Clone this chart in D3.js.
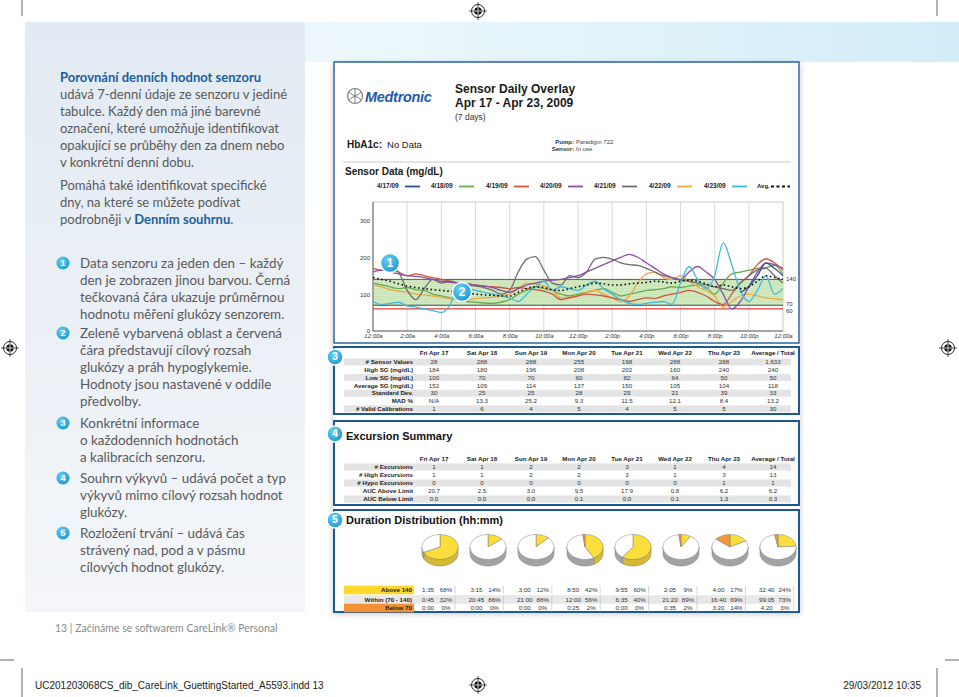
<!DOCTYPE html>
<html><head><meta charset="utf-8">
<script src="https://cdn.jsdelivr.net/npm/d3@7"></script>
<style>
html,body{margin:0;padding:0;background:#fff;}
svg{display:block;}
</style></head><body>
<svg id="c" width="959" height="697"></svg>
<script>
// ---------------- DATA ----------------
const dayLabels = ["4/17/09","4/18/09","4/19/09","4/20/09","4/21/09","4/22/09","4/23/09"];
const dayColors = ["#2e4f94","#6aaa50","#d0563b","#8b4fa3","#6e6e6e","#f0a742","#3fb9dc"];
const hours = d3.range(0, 24.01, 0.5);
const sg0417 = [null,null,null,null,null,null,null,null,null,null,null,null,null,null,null,null,null,null,null,null,null,null,null,null,null,null,null,null,null,null,null,null,null,null,null,null,null,null,null,null,null,null,null,105,120,150,184,170,150];
const sg0418 = [130,125,120,115,118,112,110,100,95,90,85,80,78,76,75,78,85,100,110,120,115,110,100,95,100,105,110,115,105,95,100,105,110,112,115,120,118,122,125,118,100,130,155,160,165,170,172,178,155];
const sg0419 = [170,165,165,160,150,155,150,145,140,135,130,128,125,122,120,118,115,118,115,112,108,100,85,90,95,100,98,95,90,85,80,85,90,88,95,100,105,110,105,95,80,72,100,130,150,180,196,185,165];
const sg0420 = [160,165,160,155,150,148,145,140,135,132,130,128,125,122,118,110,105,115,125,130,135,138,140,145,150,160,170,180,190,200,208,200,185,170,155,145,140,160,175,160,140,100,60,80,120,160,185,180,170];
const sg0421 = [null,null,175,160,110,85,115,140,130,135,130,125,122,118,110,100,110,160,195,202,165,130,125,150,145,160,195,200,195,185,180,178,170,160,150,145,138,135,130,125,120,115,110,130,150,165,170,150,130];
const sg0422 = [125,120,112,108,105,100,98,95,92,88,85,85,88,90,92,95,100,115,130,128,122,110,90,92,95,105,110,100,90,80,95,130,155,160,145,140,150,135,120,110,95,65,80,95,100,95,90,88,85];
const sg0423 = [80,72,75,78,68,65,60,55,50,70,120,115,110,105,100,95,90,80,100,120,135,110,120,115,110,125,135,115,100,85,75,72,75,78,80,72,130,175,140,115,150,240,180,110,80,110,150,100,115];
const sgAvg  = [145,140,135,128,122,118,115,112,110,108,105,103,100,98,97,95,95,105,115,120,118,112,110,115,120,125,130,128,125,125,128,130,132,135,133,130,135,138,135,128,120,125,120,115,120,135,150,145,140];
const yTicks = [0,100,200,300];
const xTickLabels = ["12:00a","2:00a","4:00a","6:00a","8:00a","10:00a","12:00p","2:00p","4:00p","6:00p","8:00p","10:00p","12:00a"];
const targetHigh = 140, targetLow = 70, hypoLimit = 60;

const colHeaders = ["Fri Apr 17","Sat Apr 18","Sun Apr 19","Mon Apr 20","Tue Apr 21","Wed Apr 22","Thu Apr 23","Average / Total"];
const statLabels = ["# Sensor Values","High SG (mg/dL)","Low SG (mg/dL)","Average SG (mg/dL)","Standard Dev.","MAD %","# Valid Calibrations"];
const statSensorValues = ["28","288","288","255","198","288","288","1,633"];
const statHigh = ["184","180","196","208","202","160","240","240"];
const statLow = ["100","70","70","60","82","64","50","50"];
const statAvg = ["152","109","114","137","150","105","104","118"];
const statSD = ["30","25","25","28","29","21","39","33"];
const statMAD = ["N/A","13.3","25.2","9.3","11.5","12.1","8.4","13.2"];
const statCal = ["1","6","4","5","4","5","5","30"];

const excLabels = ["# Excursions","# High Excursions","# Hypo Excursions","AUC Above Limit","AUC Below Limit"];
const excTotal = ["1","1","2","2","3","1","4","14"];
const excHigh = ["1","1","2","2","3","1","3","13"];
const excHypo = ["0","0","0","0","0","0","1","1"];
const aucAbove = ["20.7","2.5","3.0","9.5","17.9","0.8","6.2","6.2"];
const aucBelow = ["0.0","0.0","0.0","0.1","0.0","0.1","1.3","0.3"];

const durLabels = ["Above 140","Within (70 - 140)","Below 70"];
const aboveTime = ["1:35","3:15","3:00","8:50","9:55","2:05","4:00","32:40"];
const abovePct = [68,14,12,42,60,9,17,24];
const withinTime = ["0:45","20:45","21:00","12:00","6:35","21:20","16:40","99:05"];
const withinPct = [32,86,88,56,40,89,69,73];
const belowTime = ["0:00","0:00","0:00","0:25","0:00","0:35","3:20","4:20"];
const belowPct = [0,0,0,2,0,2,14,3];

// left column text
const introLines = [
  [{t:"Porovnání denních hodnot senzoru",b:true}],
  [{t:"udává 7-denní údaje ze senzoru v jediné"}],
  [{t:"tabulce. Každý den má jiné barevné"}],
  [{t:"označení, které umožňuje identifikovat"}],
  [{t:"opakující se průběhy den za dnem nebo"}],
  [{t:"v konkrétní denní dobu."}]
];
const intro2Lines = [
  [{t:"Pomáhá také identifikovat specifické"}],
  [{t:"dny, na které se můžete podívat"}],
  [{t:"podrobněji v "},{t:"Denním souhrnu",b:true},{t:"."}]
];
const notes = [
  ["Data senzoru za jeden den – každý","den je zobrazen jinou barvou. Černá","tečkovaná čára ukazuje průměrnou","hodnotu měření glukózy senzorem."],
  ["Zeleně vybarvená oblast a červená","čára představují cílový rozsah","glukózy a práh hypoglykemie.","Hodnoty jsou nastavené v oddíle","předvolby."],
  ["Konkrétní informace","o každodenních hodnotách","a kalibracích senzoru."],
  ["Souhrn výkyvů – udává počet a typ","výkyvů mimo cílový rozsah hodnot","glukózy."],
  ["Rozložení trvání – udává čas","strávený nad, pod a v pásmu","cílových hodnot glukózy."]
];

// ---------------- DRAW ----------------
const svg = d3.select("#c");
const defs = svg.append("defs");
const AR = "'Liberation Sans', Arial, sans-serif";
const LT = "Lato, 'Open Sans', sans-serif";

const gL = defs.append("linearGradient").attr("id","gLeft").attr("x1",0).attr("y1",0).attr("x2",0).attr("y2",1);
gL.append("stop").attr("offset",0).attr("stop-color","#e2eaf3");
gL.append("stop").attr("offset",1).attr("stop-color","#f4f6f9");
const gS = defs.append("linearGradient").attr("id","gStrip").attr("x1",0).attr("y1",0).attr("x2",1).attr("y2",0);
gS.append("stop").attr("offset",0).attr("stop-color","#eef8fc");
gS.append("stop").attr("offset",1).attr("stop-color","#d3edf8");
const pat = defs.append("pattern").attr("id","band").attr("patternUnits","userSpaceOnUse").attr("width",4).attr("height",2);
pat.append("rect").attr("width",4).attr("height",2).attr("fill","#d6eac6");
pat.append("rect").attr("width",4).attr("height",0.7).attr("fill","#c4deb0");
const sh = defs.append("filter").attr("id","shadow").attr("x","-5%").attr("y","-5%").attr("width","110%").attr("height","110%");
sh.append("feDropShadow").attr("dx",0).attr("dy",2).attr("stdDeviation",3).attr("flood-color","#000").attr("flood-opacity",0.22);
const bg = defs.append("radialGradient").attr("id","badge").attr("cx","40%").attr("cy","35%").attr("r","70%");
bg.append("stop").attr("offset",0).attr("stop-color","#6fd0f2");
bg.append("stop").attr("offset",1).attr("stop-color","#1497cf");

// backgrounds
svg.append("rect").attr("x",25).attr("y",22).attr("width",280).attr("height",590).attr("fill","url(#gLeft)");
svg.append("rect").attr("x",305).attr("y",22).attr("width",654).attr("height",40).attr("fill","url(#gStrip)");

// trim / registration marks
const marks = svg.append("g").attr("stroke","#222").attr("stroke-width",0.7).attr("fill","none");
[[22,0,22,16],[937,0,937,16],[0,660,14,660],[945,660,959,660],[22,668,22,697],[937,668,937,697]].forEach(l=>{
  marks.append("line").attr("x1",l[0]).attr("y1",l[1]).attr("x2",l[2]).attr("y2",l[3]);
});
function reg(cx,cy){
  const g = svg.append("g");
  g.append("circle").attr("cx",cx).attr("cy",cy).attr("r",6.5).attr("fill","#fff").attr("stroke","#111").attr("stroke-width",0.9);
  g.append("circle").attr("cx",cx).attr("cy",cy).attr("r",3.8).attr("fill","#111");
  g.append("line").attr("x1",cx-9).attr("x2",cx+9).attr("y1",cy).attr("y2",cy).attr("stroke","#111").attr("stroke-width",0.7);
  g.append("line").attr("y1",cy-9).attr("y2",cy+9).attr("x1",cx).attr("x2",cx).attr("stroke","#111").attr("stroke-width",0.7);
  g.append("line").attr("x1",cx-3.8).attr("x2",cx+3.8).attr("y1",cy).attr("y2",cy).attr("stroke","#fff").attr("stroke-width",0.8);
  g.append("line").attr("y1",cy-3.8).attr("y2",cy+3.8).attr("x1",cx).attr("x2",cx).attr("stroke","#fff").attr("stroke-width",0.8);
}
reg(478,11); reg(10,348); reg(948,348); reg(478,685);

// footer
svg.append("text").attr("x",35).attr("y",689).attr("font-family",AR).attr("font-size",10).attr("fill","#222")
  .text("UC201203068CS_dib_CareLink_GuettingStarted_A5593.indd   13");
svg.append("text").attr("x",921).attr("y",689).attr("text-anchor","end").attr("font-family",AR).attr("font-size",10).attr("fill","#222")
  .text("29/03/2012   10:35");
svg.append("text").attr("x",55).attr("y",632).attr("font-family",LT).attr("font-size",10.5).attr("fill","#8a8a8a")
  .text("13   |   Začínáme se softwarem CareLink® Personal");

// left column
function textLines(lines, x, y0, lh, fs){
  lines.forEach((parts,i)=>{
    const t = svg.append("text").attr("x",x).attr("y",y0+i*lh).attr("font-family",LT).attr("font-size",fs).attr("fill","#59595b");
    parts.forEach(p=>{
      const s = t.append("tspan").text(p.t);
      if(p.b) s.attr("font-weight","bold").attr("fill","#1b5f9f");
    });
  });
}
textLines(introLines, 60, 82, 17, 13.0);
textLines(intro2Lines, 60, 190, 17, 13.0);
const noteY = [263,333,423,478,533];
notes.forEach((ls,i)=>{
  svg.append("circle").attr("cx",63).attr("cy",noteY[i]).attr("r",6.5).attr("fill","url(#badge)");
  svg.append("text").attr("x",63).attr("y",noteY[i]+3.3).attr("text-anchor","middle").attr("font-family",AR).attr("font-weight","bold").attr("font-size",9).attr("fill","#fff").text(i+1);
  textLines(ls.map(s=>[{t:s}]), 80, noteY[i]+4.5, 17, 13.4);
});

// report boxes
const boxes = [[62,343],[347,414],[421,505],[510,612]];
const rep = svg.append("g");
rep.append("rect").attr("x",333).attr("y",62).attr("width",467).attr("height",550).attr("fill","#fff").attr("filter","url(#shadow)");
boxes.forEach((b,i)=>{
  rep.append("rect").attr("x",334).attr("y",b[0]).attr("width",465).attr("height",b[1]-b[0]).attr("fill","#fff")
    .attr("stroke","#1d5a94").attr("stroke-width",i==0?1.4:2);
});

// header
const lg = svg.append("g");
lg.append("circle").attr("cx",355).attr("cy",96).attr("r",7.5).attr("fill","none").attr("stroke","#808080").attr("stroke-width",1.2);
lg.append("path").attr("d","M349,92 Q355,99 361,92 M349,100 Q355,93 361,100 M355,88.5 L355,103.5").attr("fill","none").attr("stroke","#808080").attr("stroke-width",1);
svg.append("text").attr("x",365).attr("y",101.5).attr("font-family",AR).attr("font-weight","900").attr("font-style","italic").attr("font-size",14.5).attr("letter-spacing",-0.3).attr("fill","#1d5ba8").text("Medtronic");
svg.append("text").attr("x",455).attr("y",93).attr("font-family",AR).attr("font-weight","bold").attr("font-size",12).attr("fill","#1a1a1a").text("Sensor Daily Overlay");
svg.append("text").attr("x",455).attr("y",107).attr("font-family",AR).attr("font-weight","bold").attr("font-size",12).attr("fill","#1a1a1a").text("Apr 17 - Apr 23, 2009");
svg.append("text").attr("x",455).attr("y",120).attr("font-family",AR).attr("font-size",8.5).attr("fill","#333").text("(7 days)");
svg.append("text").attr("x",347).attr("y",148).attr("font-family",AR).attr("font-size",10).attr("fill","#1a1a1a")
  .call(t=>{t.append("tspan").attr("font-weight","bold").text("HbA1c:"); t.append("tspan").attr("dx",5).attr("font-size",9.5).text("No Data");});
[["Pump:","Paradigm 722",144],["Sensor:","In use",151]].forEach(r=>{
  svg.append("text").attr("x",574).attr("y",r[2]).attr("text-anchor","end").attr("font-family",AR).attr("font-weight","bold").attr("font-size",6).attr("fill","#333").text(r[0]);
  svg.append("text").attr("x",576).attr("y",r[2]).attr("font-family",AR).attr("font-size",6).attr("fill","#444").text(r[1]);
});
svg.append("line").attr("x1",343).attr("x2",791).attr("y1",162).attr("y2",162).attr("stroke","#c8c8c8").attr("stroke-width",1);
svg.append("text").attr("x",345).attr("y",175).attr("font-family",AR).attr("font-weight","bold").attr("font-size",10).attr("fill","#1a1a1a").text("Sensor Data (mg/dL)");

// legend
const legX = [377,431,486,540,594,649,704];
dayLabels.forEach((d,i)=>{
  svg.append("text").attr("x",legX[i]).attr("y",188).attr("font-family",AR).attr("font-weight","bold").attr("font-size",6.5).attr("fill","#222").text(d);
  svg.append("line").attr("x1",legX[i]+28).attr("x2",legX[i]+43).attr("y1",186.5).attr("y2",186.5).attr("stroke",dayColors[i]).attr("stroke-width",1.8);
});
svg.append("text").attr("x",757).attr("y",188).attr("font-family",AR).attr("font-weight","bold").attr("font-size",6).attr("fill","#222").text("Avg.");
svg.append("line").attr("x1",771).attr("x2",790).attr("y1",186.5).attr("y2",186.5).attr("stroke","#111").attr("stroke-width",2).attr("stroke-dasharray","3,2.5");

// plot
const x = d3.scaleLinear().domain([0,24]).range([373,783]);
const y = d3.scaleLinear().domain([0,350]).range([331,202]);
const plot = svg.append("g");
plot.append("rect").attr("x",x(0)).attr("y",y(350)).attr("width",x(24)-x(0)).attr("height",y(0)-y(350)).attr("fill","#fff").attr("stroke","#bdbdbd").attr("stroke-width",0.8);
d3.range(2,24,2).forEach(h=>{
  plot.append("line").attr("x1",x(h)).attr("x2",x(h)).attr("y1",y(350)).attr("y2",y(0)).attr("stroke","#d2d2d2").attr("stroke-width",0.8);
});
plot.append("rect").attr("x",x(0)).attr("y",y(targetHigh)).attr("width",x(24)-x(0)).attr("height",y(targetLow)-y(targetHigh)).attr("fill","url(#band)");
plot.append("line").attr("x1",x(0)).attr("x2",x(24)).attr("y1",y(targetHigh)).attr("y2",y(targetHigh)).attr("stroke","#5a5a5a").attr("stroke-width",1);
plot.append("line").attr("x1",x(0)).attr("x2",x(24)).attr("y1",y(targetLow)).attr("y2",y(targetLow)).attr("stroke","#4a4a4a").attr("stroke-width",1.1);
plot.append("line").attr("x1",x(0)).attr("x2",x(24)).attr("y1",y(hypoLimit)).attr("y2",y(hypoLimit)).attr("stroke","#e0413b").attr("stroke-width",1.1);
plot.append("line").attr("x1",x(0)).attr("x2",x(0)).attr("y1",y(350)).attr("y2",y(0)).attr("stroke","#666").attr("stroke-width",1);
plot.append("line").attr("x1",x(0)).attr("x2",x(24)).attr("y1",y(0)).attr("y2",y(0)).attr("stroke","#666").attr("stroke-width",1);

const yAxis = d3.axisLeft(y).tickValues(yTicks).tickSize(0).tickPadding(3);
const ya = plot.append("g").attr("transform",`translate(${x(0)},0)`).call(yAxis);
ya.select(".domain").remove();
ya.selectAll("text").attr("font-family",AR).attr("font-size",6).attr("fill","#333");
const xAxis = d3.axisBottom(x).tickValues(d3.range(0,25,2)).tickSize(0).tickPadding(3).tickFormat((d,i)=>xTickLabels[i]);
const xa = plot.append("g").attr("transform",`translate(0,${y(0)})`).call(xAxis);
xa.select(".domain").remove();
xa.selectAll("text").attr("font-family",AR).attr("font-size",6).attr("font-style","italic").attr("fill","#333");
[[targetHigh,"140"],[targetLow,"70"],[hypoLimit,"60"]].forEach((d,i)=>{
  plot.append("text").attr("x",786).attr("y",y(d[0])+(i==2?4:i==1?1:2)).attr("font-family",AR).attr("font-size",6).attr("fill","#333").text(d[1]);
});

const series = [sg0417,sg0418,sg0419,sg0420,sg0421,sg0422,sg0423];
const line = d3.line().defined(d=>d[1]!=null).x(d=>x(d[0])).y(d=>y(d[1])).curve(d3.curveMonotoneX);
const drawOrder = [1,5,2,4,3,6,0];
drawOrder.forEach(i=>{
  plot.append("path").attr("d",line(hours.map((h,k)=>[h,series[i][k]]))).attr("fill","none").attr("stroke",dayColors[i]).attr("stroke-width",1.3);
});
plot.append("path").attr("d",line(hours.map((h,k)=>[h,sgAvg[k]]))).attr("fill","none").attr("stroke","#111").attr("stroke-width",1.6).attr("stroke-dasharray","1.6,2.6");

function badge(cx,cy,n,r){
  svg.append("circle").attr("cx",cx).attr("cy",cy).attr("r",r).attr("fill","url(#badge)").attr("stroke","#fff").attr("stroke-width",1.5);
  svg.append("text").attr("x",cx).attr("y",cy+r*0.42).attr("text-anchor","middle").attr("font-family",AR).attr("font-weight","bold").attr("font-size",r*1.25).attr("fill","#fff").text(n);
}
badge(390,263,1,9.5);
badge(462,292,2,9.5);

// tables
const colX = [434,482,531,579,627,675,724,773];
function table(labels, rows, yHead, y0, dy, shadeFirst){
  colHeaders.forEach((h,i)=>{
    svg.append("text").attr("x",colX[i]).attr("y",yHead+2.3).attr("text-anchor","middle").attr("font-family",AR).attr("font-weight","bold").attr("font-size",6.2).attr("fill","#222").text(h);
  });
  labels.forEach((lab,r)=>{
    const cy = y0 + r*dy;
    if((r%2==0)==shadeFirst){
      svg.append("rect").attr("x",344).attr("y",cy-dy/2+0.4).attr("width",447).attr("height",dy-0.8).attr("fill","#e4e4e4");
    }
    svg.append("text").attr("x",413).attr("y",cy+2.2).attr("text-anchor","end").attr("font-family",AR).attr("font-weight","bold").attr("font-size",6.2).attr("fill","#222").text(lab);
    rows[r].forEach((v,i)=>{
      svg.append("text").attr("x",colX[i]).attr("y",cy+2.2).attr("text-anchor","middle").attr("font-family",AR).attr("font-size",6.2).attr("fill","#333").text(v);
    });
  });
}
table(statLabels,[statSensorValues,statHigh,statLow,statAvg,statSD,statMAD,statCal],353,362,7.8,true);
svg.append("text").attr("x",346).attr("y",440).attr("font-family",AR).attr("font-weight","bold").attr("font-size",11).attr("fill","#111").text("Excursion Summary");
table(excLabels,[excTotal,excHigh,excHypo,aucAbove,aucBelow],459,467,8,true);
svg.append("text").attr("x",346).attr("y",524).attr("font-family",AR).attr("font-weight","bold").attr("font-size",11).attr("fill","#111").text("Duration Distribution (hh:mm)");

badge(335,357,3,8);
badge(335,434,4,8);
badge(335,520,5,8);

// pies
const pieX = [440,488,536,585,633,681,730,778];
const topCol = ["#fbde3a","#ffffff","#f59a3c"];
const sideCol = ["#d5b833","#a3a3a3","#c97a2c"];
function pie(cx,cy,fr){
  const rx=18, ry=12.5, h=6.5;
  const g = svg.append("g");
  const pt=(a,dy)=>[cx+rx*Math.sin(a), cy-ry*Math.cos(a)+(dy||0)];
  let acc=0; const segs=[];
  fr.forEach((f,i)=>{ const a0=acc*2*Math.PI; acc+=f; segs.push([a0,acc*2*Math.PI,i]); });
  segs.forEach(([a0,a1,i])=>{
    const s=Math.max(a0,Math.PI/2), e=Math.min(a1,1.5*Math.PI);
    if(s<e){
      const n=24, top=[], bot=[];
      for(let k=0;k<=n;k++){ const a=s+(e-s)*k/n; top.push(pt(a)); bot.push(pt(a,h)); }
      const d = "M"+top.map(p=>p.join(",")).join("L")+"L"+bot.reverse().map(p=>p.join(",")).join("L")+"Z";
      g.append("path").attr("d",d).attr("fill",sideCol[i]).attr("stroke","#7a7a7a").attr("stroke-width",0.5);
    }
  });
  segs.forEach(([a0,a1,i])=>{
    if(a1-a0<=0) return;
    const n=Math.max(4,Math.ceil((a1-a0)*12)), pts=[];
    for(let k=0;k<=n;k++) pts.push(pt(a0+(a1-a0)*k/n));
    const d = `M${cx},${cy}L`+pts.map(p=>p.join(",")).join("L")+"Z";
    g.append("path").attr("d",d).attr("fill",topCol[i]).attr("stroke","#7a7a7a").attr("stroke-width",0.5);
  });
}
pieX.forEach((px,i)=>{
  pie(px,547,[abovePct[i]/100, withinPct[i]/100, belowPct[i]/100]);
});

// duration table
const durRows = [[aboveTime,abovePct],[withinTime,withinPct],[belowTime,belowPct]];
const durY = [590,599.5,608];
svg.append("rect").attr("x",344).attr("y",durY[1]-4.3).attr("width",447).attr("height",8.6).attr("fill","#e8e8e8");
svg.append("rect").attr("x",344).attr("y",durY[0]-4.3).attr("width",70).attr("height",8.6).attr("fill","#fbd829");
svg.append("rect").attr("x",344).attr("y",durY[2]-4.3).attr("width",70).attr("height",8.6).attr("fill","#f49233");
durLabels.forEach((lab,r)=>{
  svg.append("text").attr("x",412).attr("y",durY[r]+2.2).attr("text-anchor","end").attr("font-family",AR).attr("font-weight","bold").attr("font-size",6.2).attr("fill","#222").text(lab);
  durRows[r][0].forEach((t,i)=>{
    const bx = 428 + i*48.4;
    svg.append("text").attr("x",bx).attr("y",durY[r]+2.2).attr("text-anchor","middle").attr("font-family",AR).attr("font-size",6.2).attr("fill","#333").text(t);
    svg.append("text").attr("x",bx+18).attr("y",durY[r]+2.2).attr("text-anchor","middle").attr("font-family",AR).attr("font-size",6.2).attr("fill","#333").text(durRows[r][1][i]+"%");
    svg.append("line").attr("x1",bx+27).attr("x2",bx+27).attr("y1",durY[r]-4).attr("y2",durY[r]+4).attr("stroke","#bbb").attr("stroke-width",0.6);
  });
});
</script>
</body></html>
